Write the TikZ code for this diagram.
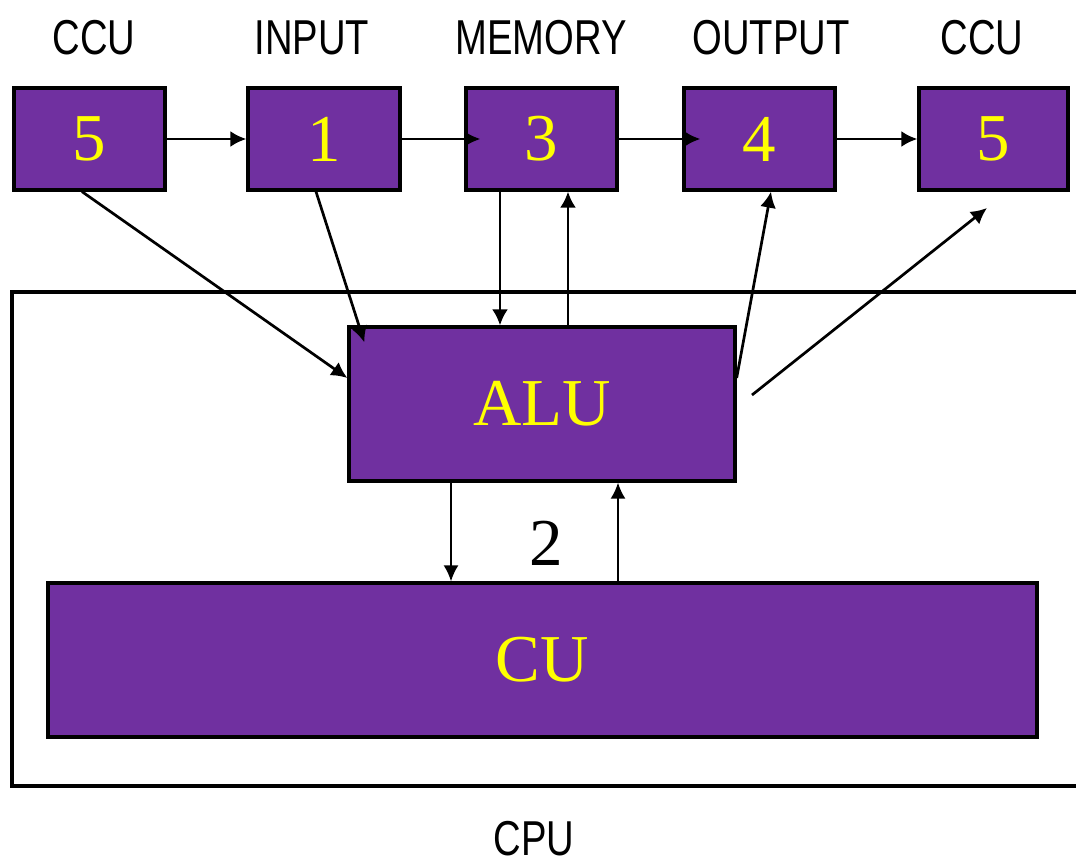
\documentclass[tikz,border=0pt]{standalone}
\usepackage{fontspec}
\setmainfont{Liberation Serif}
\newfontfamily\lblfont[FakeStretch=0.78]{Liberation Sans}
\usetikzlibrary{arrows.meta,scopes}
\definecolor{unitpurple}{HTML}{7030A0}
\definecolor{unityellow}{HTML}{FFFF00}
\begin{document}
\begin{tikzpicture}[
    x=1pt,y=-1pt,
    u/.style={rectangle,draw=black,fill=unitpurple,line width=3.3pt,inner sep=0pt,
        text=unityellow,font=\fontsize{67}{67}\selectfont},
    lbl/.style={font=\lblfont\fontsize{49}{49}\selectfont,inner sep=0pt},
    link/.style={line width=2.7pt,-{Latex[length=16pt,width=16pt]}},
    thin link/.style={line width=2pt,-{Latex[length=16pt,width=15pt]}},
]
    \useasboundingbox (0,0) rectangle (1076,864);
    % CPU frame (runs off the right edge)
    \draw[line width=3.2pt] (1076,292) -- (12,292) -- (12,786) -- (1076,786);
    \node[lbl] (cpu) at (534,839) {CPU};
    % top row
    \node[u,minimum width=151pt,minimum height=102pt] (c5a) at (89.5,139) {5};
    \node[u,minimum width=152pt,minimum height=102pt] (m1) at (324,139) {1};
    \node[u,minimum width=151pt,minimum height=102pt] (m3) at (541.5,139) {3};
    \node[u,minimum width=151pt,minimum height=102pt] (m4) at (759.5,139) {4};
    \node[u,minimum width=149pt,minimum height=102pt] (c5b) at (993.5,139) {5};
    \node[lbl] (tccu) at (94,38) {CCU};
    \node[lbl] (tin) at (312,38) {INPUT};
    \node[lbl] (tmem) at (541,38) {MEMORY};
    \node[lbl] (tout) at (771,38) {OUTPUT};
    \node[lbl] (tccub) at (982,38) {CCU};
    % inside the CPU
    \node[u,minimum width=386pt,minimum height=154pt] (alu) at (542,404) {ALU};
    \node[u,minimum width=989pt,minimum height=154pt] (cu) at (542.5,660) {CU};
    \node[font=\fontsize{67}{67}\selectfont,inner sep=0pt] (two) at (546,543) {2};
    \coordinate (free) at (752,395);
    \coordinate (tip) at (987,208);
    {[link]
        \draw (c5a) -- (m1);
        \draw[shorten >=-16pt] (m1) -- (m3);
        \draw[shorten >=-18pt] (m3) -- (m4);
        \draw (m4) -- (c5b);
        \draw ([xshift=-7.5pt]c5a.south) -- ([yshift=26pt]alu.west);
        \draw ([xshift=-8pt]m1.south) -- ([xshift=17pt,yshift=-17pt]alu.north west);
        \draw ([xshift=-41.5pt]m3.south) -- ([xshift=-41.5pt]m3.south |- alu.north);
        \draw ([xshift=26.5pt]m3.south |- alu.north) -- ([xshift=26.5pt]m3.south);
        \draw ([yshift=26pt]alu.east) -- ([xshift=11.5pt]m4.south);
        \draw (free) -- (tip);
    }
    {[thin link]
        \draw ([xshift=-91pt]alu.south) -- ([xshift=-91pt]alu.south |- cu.north);
        \draw ([xshift=76pt]alu.south |- cu.north) -- ([xshift=76pt]alu.south);
    }
\end{tikzpicture}
\end{document}
